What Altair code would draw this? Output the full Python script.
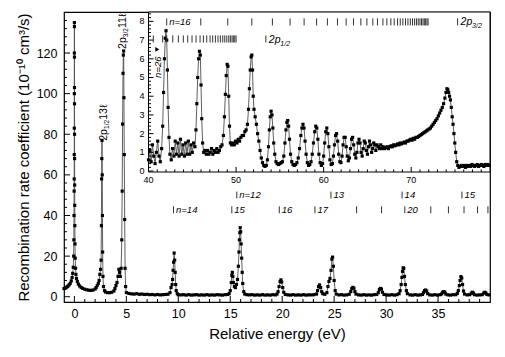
import altair as alt
import pandas as pd

FONT = "Liberation Sans"

# ---------------- data ----------------
# main spectrum, -1 .. 5 eV  (energy eV, rate 1e-10 cm^3/s)
main_low = [
    (-1.0, 4.0), (-0.9, 4.2), (-0.8, 4.5), (-0.7, 4.9), (-0.6, 5.3), (-0.5, 5.9), (-0.4, 6.6),
    (-0.3, 7.8), (-0.22, 9.5), (-0.16, 11.5), (-0.11, 14.5), (-0.07, 20.0), (-0.05, 28.0),
    (-0.035, 40.0), (-0.025, 52.0), (-0.018, 58.0), (-0.012, 70.0), (-0.008, 83.0),
    (-0.004, 100.0), (-0.002, 120.0), (0.0, 135.0), (0.003, 133.0), (0.006, 118.0),
    (0.009, 103.0), (0.012, 95.0), (0.016, 80.0), (0.02, 68.0), (0.026, 55.0), (0.034, 45.0),
    (0.045, 35.0), (0.06, 26.0), (0.08, 19.0), (0.11, 14.0), (0.15, 11.0), (0.2, 9.0),
    (0.28, 7.5), (0.38, 6.2), (0.5, 5.3), (0.65, 4.6), (0.8, 4.1), (1.0, 3.7), (1.2, 3.4),
    (1.4, 3.2), (1.6, 3.1), (1.8, 3.3), (2.0, 3.8), (2.1, 4.5), (2.2, 5.5), (2.3, 6.5),
    (2.38, 8.0), (2.45, 11.0), (2.52, 13.5), (2.57, 18.0), (2.6, 35.0), (2.62, 58.0),
    (2.64, 68.0), (2.66, 77.0), (2.68, 60.0), (2.7, 40.0), (2.72, 22.0), (2.75, 10.0),
    (2.8, 5.0), (2.9, 3.0), (3.0, 2.3), (3.2, 2.0), (3.4, 2.0), (3.6, 2.2), (3.8, 2.8),
    (3.9, 4.0), (4.0, 5.5), (4.1, 7.0), (4.2, 10.0), (4.28, 13.5), (4.35, 12.0), (4.42, 10.0),
    (4.5, 14.0), (4.56, 28.0), (4.6, 52.0), (4.64, 85.0), (4.68, 110.0), (4.71, 119.0),
    (4.74, 121.0), (4.77, 98.0), (4.8, 70.0), (4.84, 38.0), (4.88, 14.0), (4.93, 5.0), (5.0, 2.0),
]

# main spectrum, 5 .. 40 eV
main_high = [
    (5.25, 1.6), (5.5, 1.4), (5.75, 1.3), (6.0, 1.5), (6.25, 1.2), (6.5, 1.3), (6.75, 1.1),
    (7.0, 1.2), (7.25, 1.0), (7.5, 1.1), (7.75, 0.9), (8.0, 1.1), (8.25, 0.9), (8.5, 1.0),
    (8.75, 1.1), (9.0, 1.2), (9.2, 2.0), (9.3, 4.5), (9.4, 6.0), (9.45, 8.5), (9.5, 13.0),
    (9.55, 17.0), (9.6, 21.5), (9.65, 18.0), (9.7, 12.0), (9.75, 6.0), (9.8, 3.0), (9.9, 1.5),
    (10.0, 1.0), (10.25, 0.9), (10.5, 1.0), (10.75, 0.8), (11.0, 1.0), (11.25, 0.8), (11.5, 0.9),
    (11.75, 1.0), (12.0, 0.8), (12.25, 0.9), (12.5, 0.8), (12.75, 1.0), (13.0, 0.8), (13.25, 0.9),
    (13.5, 0.8), (13.75, 1.0), (14.0, 0.9), (14.25, 0.8), (14.5, 1.0), (14.75, 1.1), (14.9, 1.5),
    (15.0, 3.0), (15.1, 7.0), (15.15, 10.5), (15.2, 12.0), (15.25, 10.0), (15.3, 7.0),
    (15.4, 5.0), (15.5, 4.5), (15.6, 6.0), (15.7, 8.5), (15.78, 15.0), (15.84, 22.0),
    (15.88, 28.0), (15.92, 31.5), (15.96, 34.0), (16.0, 32.0), (16.05, 26.0), (16.1, 19.0),
    (16.15, 12.0), (16.2, 6.5), (16.3, 2.5), (16.4, 1.3), (16.6, 1.0), (16.85, 0.9), (17.1, 1.0),
    (17.35, 0.8), (17.6, 0.9), (17.85, 0.8), (18.1, 1.0), (18.35, 0.8), (18.6, 0.9), (18.85, 0.8),
    (19.1, 1.0), (19.35, 0.9), (19.5, 1.3), (19.6, 2.5), (19.7, 5.0), (19.8, 7.5), (19.88, 8.3),
    (19.95, 7.2), (20.05, 4.5), (20.15, 2.2), (20.3, 1.1), (20.55, 0.9), (20.8, 0.8), (21.05, 1.0),
    (21.3, 0.8), (21.55, 0.9), (21.8, 0.8), (22.05, 1.0), (22.3, 0.8), (22.55, 0.9), (22.8, 0.9),
    (23.05, 1.0), (23.3, 1.3), (23.4, 3.0), (23.5, 5.0), (23.6, 5.8), (23.7, 4.5), (23.8, 2.5),
    (23.9, 1.5), (24.1, 1.2), (24.3, 2.0), (24.4, 5.0), (24.5, 7.5), (24.6, 9.0), (24.7, 13.0),
    (24.78, 18.5), (24.85, 19.5), (24.92, 15.0), (25.0, 8.0), (25.1, 3.0), (25.2, 1.3),
    (25.45, 0.9), (25.7, 1.0), (25.95, 0.8), (26.2, 0.9), (26.45, 1.2), (26.6, 2.5), (26.7, 4.0),
    (26.8, 4.6), (26.9, 4.2), (27.0, 2.5), (27.1, 1.3), (27.35, 0.9), (27.6, 0.8), (27.85, 1.0),
    (28.1, 0.8), (28.35, 0.9), (28.6, 0.8), (28.85, 1.0), (29.1, 1.1), (29.25, 2.0), (29.35, 3.5),
    (29.45, 4.1), (29.55, 3.8), (29.65, 2.2), (29.8, 1.1), (30.05, 0.9), (30.3, 0.8), (30.55, 1.0),
    (30.8, 0.8), (31.05, 1.0), (31.25, 1.5), (31.35, 3.0), (31.45, 6.0), (31.52, 9.5),
    (31.58, 12.5), (31.64, 14.2), (31.7, 14.0), (31.77, 10.0), (31.85, 6.0), (31.95, 3.0),
    (32.05, 1.5), (32.3, 0.9), (32.55, 0.8), (32.8, 1.0), (33.05, 0.8), (33.3, 0.9), (33.5, 1.1),
    (33.6, 2.0), (33.7, 3.0), (33.8, 3.3), (33.9, 2.8), (34.0, 1.5), (34.2, 0.9), (34.45, 0.8),
    (34.7, 1.0), (34.95, 0.8), (35.2, 1.0), (35.35, 1.4), (35.45, 2.2), (35.55, 2.5), (35.65, 2.2),
    (35.75, 1.3), (35.95, 0.9), (36.2, 0.8), (36.45, 1.0), (36.7, 1.0), (36.85, 1.6), (36.95, 3.0),
    (37.05, 5.5), (37.12, 8.0), (37.2, 9.9), (37.28, 9.2), (37.36, 6.0), (37.45, 2.8),
    (37.55, 1.3), (37.8, 0.9), (38.05, 1.0), (38.2, 1.7), (38.3, 2.2), (38.4, 1.8), (38.5, 1.0),
    (38.75, 0.8), (39.0, 0.9), (39.25, 1.0), (39.4, 1.8), (39.5, 2.2), (39.6, 1.8), (39.7, 1.1),
    (39.9, 0.9),
]

# inset spectrum, 40 .. 79 eV
inset_points = [
    (40.0, 0.6), (40.15, 1.1), (40.3, 0.5), (40.45, 1.4), (40.6, 0.8), (40.75, 0.4), (40.9, 1.0),
    (41.05, 1.6), (41.2, 0.8), (41.35, 0.5), (41.5, 1.2), (41.62, 2.4), (41.72, 4.2), (41.82, 6.0),
    (41.92, 7.1), (42.0, 7.5), (42.08, 7.0), (42.16, 5.4), (42.24, 3.4), (42.34, 1.8), (42.45, 0.9),
    (42.6, 0.6), (42.75, 1.2), (42.9, 0.8), (43.05, 1.6), (43.2, 0.9), (43.35, 1.5), (43.5, 0.8),
    (43.65, 1.7), (43.8, 0.9), (43.95, 1.4), (44.1, 0.8), (44.25, 1.5), (44.4, 0.9), (44.55, 1.6),
    (44.7, 0.9), (44.85, 1.4), (45.0, 1.0), (45.15, 1.5), (45.3, 1.3), (45.42, 2.2), (45.52, 3.6),
    (45.62, 5.0), (45.72, 6.0), (45.82, 6.4), (45.92, 6.2), (46.0, 4.6), (46.08, 2.8), (46.18, 1.5),
    (46.3, 1.0), (46.45, 1.1), (46.6, 0.9), (46.75, 1.1), (46.9, 0.9), (47.05, 1.0), (47.2, 1.2),
    (47.35, 0.9), (47.5, 1.1), (47.65, 1.0), (47.8, 1.2), (47.95, 1.0), (48.1, 1.1), (48.25, 1.3),
    (48.4, 1.4), (48.55, 1.9), (48.67, 2.9), (48.78, 4.1), (48.88, 5.1), (48.98, 5.7), (49.07, 5.6),
    (49.16, 4.0), (49.25, 2.4), (49.35, 1.5), (49.5, 1.4), (49.65, 1.5), (49.8, 1.4), (49.95, 1.6),
    (50.1, 1.5), (50.25, 1.7), (50.4, 1.6), (50.55, 1.8), (50.7, 1.9), (50.85, 1.9), (51.0, 2.1),
    (51.15, 2.2), (51.3, 2.5), (51.42, 3.3), (51.52, 4.4), (51.62, 5.4), (51.72, 6.1), (51.8, 6.2),
    (51.88, 5.4), (51.96, 4.0), (52.05, 3.3), (52.18, 2.9), (52.32, 2.5), (52.46, 2.0), (52.6, 1.6),
    (52.74, 1.1), (52.88, 0.7), (53.02, 0.45), (53.16, 0.3), (53.3, 0.25), (53.45, 0.3),
    (53.58, 0.6), (53.7, 1.3), (53.8, 2.2), (53.9, 2.9), (54.0, 3.2), (54.1, 3.0), (54.2, 2.3),
    (54.3, 1.5), (54.42, 0.9), (54.56, 0.5), (54.7, 0.4), (54.85, 0.35), (55.0, 0.4), (55.15, 0.45),
    (55.3, 0.5), (55.45, 0.8), (55.58, 1.5), (55.7, 2.2), (55.8, 2.6), (55.9, 2.7), (56.0, 2.4),
    (56.1, 1.7), (56.22, 0.9), (56.36, 0.5), (56.5, 0.35), (56.65, 0.3), (56.8, 0.35), (56.95, 0.45),
    (57.1, 0.7), (57.25, 1.2), (57.4, 1.9), (57.52, 2.3), (57.64, 2.5), (57.76, 2.3), (57.88, 1.6),
    (58.0, 0.9), (58.14, 0.45), (58.28, 0.3), (58.42, 0.35), (58.56, 0.5), (58.7, 0.9), (58.84, 1.5),
    (58.98, 2.1), (59.1, 2.4), (59.22, 2.3), (59.34, 1.7), (59.46, 0.9), (59.6, 0.45), (59.74, 0.3),
    (59.88, 0.4), (60.0, 0.8), (60.12, 1.5), (60.24, 2.1), (60.36, 2.3), (60.48, 2.0), (60.6, 1.3),
    (60.72, 0.6), (60.86, 0.35), (61.0, 0.4), (61.12, 0.8), (61.24, 1.4), (61.36, 1.9), (61.48, 2.0),
    (61.6, 1.6), (61.72, 0.9), (61.85, 0.5), (61.98, 0.45), (62.1, 0.8), (62.22, 1.4), (62.34, 1.8),
    (62.46, 1.8), (62.58, 1.3), (62.7, 0.8), (62.82, 0.55), (62.95, 0.7), (63.07, 1.2), (63.19, 1.7),
    (63.31, 1.8), (63.43, 1.4), (63.55, 0.9), (63.68, 0.7), (63.8, 1.0), (63.92, 1.5), (64.04, 1.7),
    (64.16, 1.5), (64.28, 1.0), (64.4, 0.8), (64.52, 1.2), (64.64, 1.6), (64.76, 1.5), (64.88, 1.1),
    (65.0, 0.9), (65.12, 1.3), (65.24, 1.6), (65.36, 1.4), (65.48, 1.0), (65.6, 1.2), (65.72, 1.5),
    (65.84, 1.4), (65.96, 1.1), (66.1, 1.4), (66.24, 1.3), (66.38, 1.2), (66.52, 1.4), (66.66, 1.2),
    (66.8, 1.3), (66.95, 1.2), (67.1, 1.25), (67.25, 1.3), (67.4, 1.2), (67.55, 1.3), (67.7, 1.35),
    (67.85, 1.3), (68.0, 1.4), (68.15, 1.35), (68.3, 1.4), (68.45, 1.45), (68.6, 1.4), (68.75, 1.5),
    (68.9, 1.45), (69.05, 1.5), (69.2, 1.55), (69.35, 1.5), (69.5, 1.6), (69.65, 1.6), (69.8, 1.65),
    (69.95, 1.7), (70.1, 1.65), (70.25, 1.75), (70.4, 1.7), (70.55, 1.8), (70.7, 1.8), (70.85, 1.85),
    (71.0, 1.9), (71.15, 1.95), (71.3, 2.0), (71.45, 2.05), (71.6, 2.1), (71.75, 2.15), (71.9, 2.2),
    (72.05, 2.25), (72.2, 2.3), (72.35, 2.4), (72.5, 2.5), (72.65, 2.6), (72.8, 2.7), (72.95, 2.8),
    (73.1, 2.95), (73.25, 3.1), (73.4, 3.25), (73.55, 3.4), (73.7, 3.6), (73.85, 3.9), (73.97, 4.2),
    (74.08, 4.4), (74.18, 4.35), (74.28, 4.2), (74.38, 4.0), (74.48, 3.8), (74.58, 3.4), (74.68, 2.9),
    (74.78, 2.5), (74.88, 2.0), (74.98, 1.5), (75.08, 1.0), (75.2, 0.5), (75.32, 0.3), (75.45, 0.2),
    (75.6, 0.25), (75.75, 0.3), (75.9, 0.25), (76.05, 0.3), (76.2, 0.2), (76.35, 0.3), (76.5, 0.25),
    (76.65, 0.3), (76.8, 0.25), (76.95, 0.35), (77.1, 0.3), (77.25, 0.25), (77.4, 0.3), (77.55, 0.35),
    (77.7, 0.25), (77.85, 0.3), (78.0, 0.35), (78.15, 0.3), (78.3, 0.25), (78.45, 0.35), (78.6, 0.3),
    (78.75, 0.35), (78.9, 0.3),
]

main_x_ticks = [0, 5, 10, 15, 20, 25, 30, 35]
main_y_ticks = [0, 20, 40, 60, 80, 100, 120]
inset_x_ticks = [40, 50, 60, 70]
inset_y_ticks = [0, 1, 2, 3, 4, 5, 6, 7, 8]

# Rydberg-series markers in the main panel
n12_pos = [15.63, 24.69, 31.54, 37.3]
n12_lab = ["n=12", "13", "14", "15"]
n14_pos = [9.54, 15.15, 19.72, 23.15, 27.16, 29.56, 31.8, 34.3, 36.0, 37.5, 38.8, 39.8]
n14_lab = [" n=14", "15", "16", "17", "", "", "20", "", "", "", "", ""]

# Rydberg-series markers in the inset
p32_pos = [42.08, 45.97, 49.05, 51.8, 54.15, 56.17, 57.77, 59.2, 60.43, 61.58, 62.57, 63.41,
           64.25, 64.94, 65.62, 66.15, 66.77, 67.22, 67.68, 68.06, 68.44, 68.75, 69.05, 69.35,
           69.63, 69.9, 70.15, 70.39, 70.6, 70.8, 71.0, 71.18, 71.35, 71.5, 71.65, 71.8, 71.93]
p32_limit = 75.3
p12_pos = [40.55, 41.62, 42.08, 42.77, 43.41, 43.98, 44.48, 44.97, 45.43, 45.89, 46.27, 46.65,
           47.03, 47.33, 47.64, 47.94, 48.21, 48.48, 48.71, 48.94, 49.17, 49.35, 49.54, 49.69,
           49.85, 50.0]
p12_limit = 53.4

W, H = 426, 290


# ---------------- scales (every layer gets its own, identical, scale) ----------------
def xm(f="x", axis=None):
    return alt.X(f"{f}:Q", scale=alt.Scale(domain=[-1, 40], range=[0, W], nice=False, zero=False), axis=axis)


def ym(f="y", axis=None):
    return alt.Y(f"{f}:Q", scale=alt.Scale(domain=[-2.6, 140.2], range=[H, 0], nice=False, zero=False), axis=axis)


def xi(f="x"):
    return alt.X(f"{f}:Q", scale=alt.Scale(domain=[40, 79], range=[84.5, W], nice=False, zero=False), axis=None)


def yi(f="y"):
    return alt.Y(f"{f}:Q", scale=alt.Scale(domain=[-0.05, 8.5], range=[160, 0], nice=False, zero=False), axis=None)


main_df = pd.DataFrame(main_low + main_high, columns=["x", "y"])
inset_df = pd.DataFrame(inset_points, columns=["x", "y"])

xaxis = alt.Axis(values=main_x_ticks, title="Relative energy (eV)", ticks=False, domain=False,
                 grid=False, labelPadding=5, labelFontSize=12.5, titleFontSize=15, titlePadding=7)
yaxis = alt.Axis(values=main_y_ticks, title="Recombination rate coefficient (10⁻¹⁰ cm³/s)",
                 ticks=False, domain=False, grid=False, labelPadding=7, labelFontSize=12.5,
                 titleFontSize=15, titlePadding=5)

PT = 10     # marker area
LW = 0.9    # connecting line width

layers = []
layers.append(alt.Chart(main_df).mark_line(color="#4d4d4d", strokeWidth=LW).encode(
    x=xm(axis=xaxis), y=ym(axis=yaxis)))
layers.append(alt.Chart(main_df).mark_square(size=PT, color="black", opacity=1).encode(x=xm(), y=ym()))

# inward ticks of the main frame
mxt = [(v, -2.6, 0.35) for v in main_x_ticks] + [(v, -2.6, -1.12) for v in range(0, 40) if v % 5]
myt = [(-1.0, -0.42, v) for v in main_y_ticks] + [(-1.0, -0.71, v) for v in range(4, 140, 4) if v % 20]
layers.append(alt.Chart(pd.DataFrame(mxt, columns=["x", "y", "y2"])).mark_rule(color="black", strokeWidth=1).encode(
    x=xm(), y=ym(), y2="y2:Q"))
layers.append(alt.Chart(pd.DataFrame(myt, columns=["x", "x2", "y"])).mark_rule(color="black", strokeWidth=1).encode(
    x=xm(), x2="x2:Q", y=ym()))

# series markers (main)
row_c1, row_c2, half = 50.07, 42.8, 1.7
ann_m = pd.DataFrame(
    [(p, row_c1, l) for p, l in zip(n12_pos, n12_lab)] + [(p, row_c2, l) for p, l in zip(n14_pos, n14_lab)],
    columns=["x", "y", "lab"])
ann_m["y1"] = ann_m["y"] - half
ann_m["y2"] = ann_m["y"] + half
layers.append(alt.Chart(ann_m).mark_rule(color="#333333", strokeWidth=1).encode(
    x=xm(), y=ym("y1"), y2="y2:Q"))
layers.append(alt.Chart(ann_m).mark_text(align="left", baseline="middle", dx=2.5, font=FONT,
                                         fontStyle="italic", fontSize=9.5, color="black").encode(
    x=xm(), y=ym(), text="lab:N"))

# rotated peak labels (pieces: text, size, offset along text, offset across text)
rot_pieces = [
    (2.85, 76.8, "2p", 10.5, 0, 0), (2.85, 76.8, "1/2", 6.5, 11.8, 3), (2.85, 76.8, "13ℓ", 10.5, 21, 0),
    (4.72, 122.0, "2p", 10.5, 0, 0), (4.72, 122.0, "3/2", 6.5, 11.8, 3), (4.72, 122.0, "11ℓ", 10.5, 21, 0),
]
for (px, py, t, fs, ddx, ddy) in rot_pieces:
    layers.append(alt.Chart(pd.DataFrame({"x": [px], "y": [py], "t": [t]})).mark_text(
        angle=270, align="left", baseline="middle", font=FONT, fontSize=fs,
        dx=ddx, dy=ddy, color="black").encode(x=xm(), y=ym(), text="t:N"))

# ---------------- inset ----------------
frame = pd.DataFrame([(40, 79, -0.05, 8.5)], columns=["x", "x2", "y", "y2"])
layers.append(alt.Chart(frame).mark_rect(fill="white", stroke="black", strokeWidth=1).encode(
    x=xi(), x2="x2:Q", y=yi(), y2="y2:Q"))
layers.append(alt.Chart(inset_df).mark_line(color="#4d4d4d", strokeWidth=LW).encode(x=xi(), y=yi()))
layers.append(alt.Chart(inset_df).mark_square(size=PT, color="black", opacity=1).encode(x=xi(), y=yi()))

ixt = [(v, -0.05, 0.22) for v in inset_x_ticks[1:]] + [(v, -0.05, 0.09) for v in range(41, 79) if v % 10]
iyt = [(40.0, 40.57, v) for v in inset_y_ticks] + [(40.0, 40.29, v / 5) for v in range(1, 43) if v % 5]
layers.append(alt.Chart(pd.DataFrame(ixt, columns=["x", "y", "y2"])).mark_rule(color="black", strokeWidth=1).encode(
    x=xi(), y=yi(), y2="y2:Q"))
layers.append(alt.Chart(pd.DataFrame(iyt, columns=["x", "x2", "y"])).mark_rule(color="black", strokeWidth=1).encode(
    x=xi(), x2="x2:Q", y=yi()))

layers.append(alt.Chart(pd.DataFrame({"x": inset_x_ticks, "y": -0.05, "t": [str(v) for v in inset_x_ticks]})).mark_text(
    baseline="top", dy=4, font=FONT, fontSize=9, color="black").encode(x=xi(), y=yi(), text="t:N"))
layers.append(alt.Chart(pd.DataFrame({"x": 40, "y": inset_y_ticks, "t": [str(v) for v in inset_y_ticks]})).mark_text(
    align="right", baseline="middle", dx=-4, font=FONT, fontSize=9, color="black").encode(
    x=xi(), y=yi(), text="t:N"))

irow1, irow2, ihalf = 7.97, 7.06, 0.19
ann_i = pd.DataFrame([(p, irow1) for p in p32_pos + [p32_limit]] + [(p, irow2) for p in p12_pos + [p12_limit]],
                     columns=["x", "y"])
ann_i["y1"] = ann_i["y"] - ihalf
ann_i["y2"] = ann_i["y"] + ihalf
layers.append(alt.Chart(ann_i).mark_rule(color="#333333", strokeWidth=1).encode(
    x=xi(), y=yi("y1"), y2="y2:Q"))
layers.append(alt.Chart(pd.DataFrame({"x": [p32_pos[0]], "y": [irow1], "t": ["n=16"]})).mark_text(
    align="left", baseline="middle", dx=2.5, font=FONT, fontStyle="italic", fontSize=9.5, color="black").encode(
    x=xi(), y=yi(), text="t:N"))
lim_df = pd.DataFrame({"x": [p32_limit, p12_limit], "y": [irow1 - ihalf, irow2 - ihalf],
                       "t": ["2p", "2p"], "s": ["3/2", "1/2"]})
layers.append(alt.Chart(lim_df).mark_text(align="left", baseline="alphabetic", dx=3, font=FONT,
                                          fontStyle="italic", fontSize=10.5, color="black").encode(
    x=xi(), y=yi(), text="t:N"))
layers.append(alt.Chart(lim_df).mark_text(align="left", baseline="alphabetic", dx=14.5, dy=3, font=FONT,
                                          fontStyle="italic", fontSize=7, color="black").encode(
    x=xi(), y=yi(), text="s:N"))
layers.append(alt.Chart(pd.DataFrame({"x": [41.1], "y": [5.55], "t": ["n=26"]})).mark_text(
    angle=270, align="center", baseline="middle", font=FONT, fontStyle="italic", fontSize=9.5,
    color="black").encode(x=xi(), y=yi(), text="t:N"))
layers.append(alt.Chart(pd.DataFrame({"x": [40.93], "y": [6.5]})).mark_point(
    shape="triangle", filled=True, size=22, angle=330, color="black", opacity=1).encode(x=xi(), y=yi()))

chart = alt.layer(*layers).resolve_scale(
    x="independent", y="independent").resolve_axis(x="independent", y="independent").properties(
    width=W, height=H,
    padding={"left": 56, "top": 4, "right": 7, "bottom": 47},
    autosize=alt.AutoSizeParams(type="none"),
).configure_view(stroke="black", strokeWidth=1.2).configure_axis(
    labelFont=FONT, titleFont=FONT, labelColor="black", titleColor="black", titleFontWeight="normal")

chart.save("out.html", embed_options={"renderer": "svg", "actions": False})
